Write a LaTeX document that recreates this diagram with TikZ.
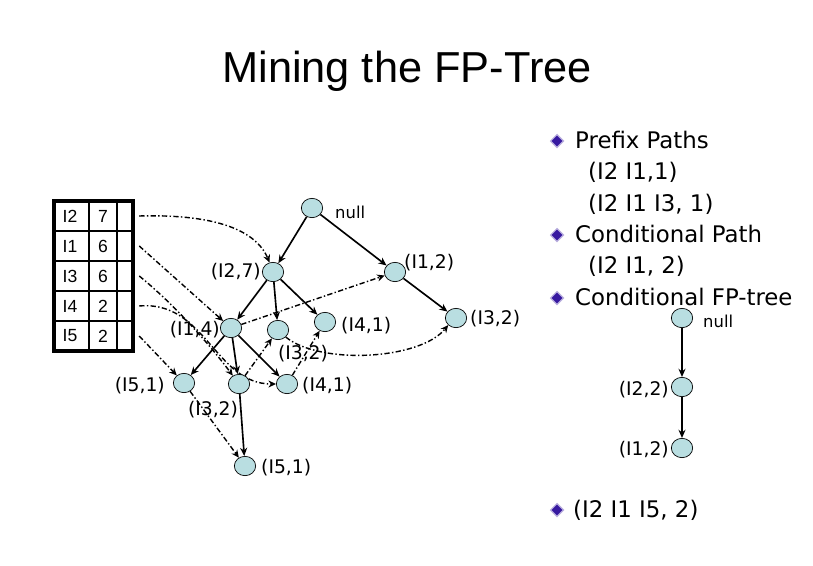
\documentclass[tikz,border=0pt]{standalone}
\usepackage{fontspec}
\setmainfont{DejaVu Sans}
\newfontfamily\arialfont{Liberation Sans}
\usetikzlibrary{arrows.meta,shapes.geometric,backgrounds}

\definecolor{nodecyan}{RGB}{185,222,225}
\definecolor{bulletviolet}{RGB}{55,25,160}

\begin{document}
\begin{tikzpicture}[
    x=0.3mm, y=-0.3mm,
    fpnode/.style={draw, ellipse, fill=nodecyan, minimum width=6.4mm, minimum height=5.8mm, inner sep=0pt, line width=0.6pt},
    lbl/.style={font=\fontsize{16}{19}\selectfont, inner sep=0pt},
    nulllbl/.style={font=\fontsize{14}{16}\selectfont, inner sep=0pt},
    tabtxt/.style={font=\arialfont\fontsize{15}{17}\selectfont, inner sep=0pt},
    cell/.style={minimum width=8.4mm, minimum height=9mm, inner sep=0pt},
    treeedge/.style={-{Stealth[length=7pt,width=6pt]}, line width=1.4pt},
    linkedge/.style={-{Stealth[length=6.5pt,width=6pt]}, line width=1.2pt, dash pattern=on 4.5pt off 2pt on 1.2pt off 2pt},
    bullettxt/.style={font=\fontsize{19.5}{23}\selectfont, anchor=base west, inner sep=0pt},
    bulletmark/.style={diamond, draw=bulletviolet!35!white, fill=bulletviolet, minimum width=4mm, minimum height=4mm, inner sep=0pt, line width=1pt},
  ]
    \useasboundingbox (0,0) rectangle (813,566);

    % Title
    \node[font=\arialfont\fontsize{37}{44}\selectfont] (title) at (407,71) {Mining the FP-Tree};

    % Header table
    \foreach \item/\cnt [count=\r] in {I2/7,I1/6,I3/6,I4/2,I5/2} {
      \node[tabtxt] (n\item) at (70,186+30*\r) {\item};
      \node[tabtxt] (c\item) at (103,186+30*\r) {\cnt};
      \node[cell] (t\item) at (125,186+30*\r) {};
    }
    \draw[line width=2.6pt] (54,201) rectangle (133,351);
    \draw[line width=2.2pt] (89,201) -- (89,351) (117,201) -- (117,351);
    \foreach \y in {231,261,291,321}
      \draw[line width=2.2pt] (54,\y) -- (133,\y);

    % FP-tree
    \node[fpnode] (root) at (312,208) {};
    \node[fpnode] (a27) at (273,272) {};
    \node[fpnode] (a12) at (395,272) {};
    \node[fpnode] (a14) at (231,328) {};
    \node[fpnode] (a32) at (278,330) {};
    \node[fpnode] (a41) at (325,322) {};
    \node[fpnode] (c32) at (456,318) {};
    \node[fpnode] (b51) at (184,383) {};
    \node[fpnode] (b32) at (239,384) {};
    \node[fpnode] (b41) at (287,384) {};
    \node[fpnode] (c51) at (245,466) {};

    \node[nulllbl, anchor=west] (l-root) at (335,212) {null};
    \node[lbl, anchor=east] (l-a27) at (261,272) {(I2,7)};
    \node[lbl, anchor=west] (l-a12) at (404,263) {(I1,2)};
    \node[lbl, anchor=east] (l-a14) at (220,330) {(I1,4)};
    \node[lbl] (l-a32) at (303,354) {(I3,2)};
    \node[lbl, anchor=west] (l-a41) at (341,326) {(I4,1)};
    \node[lbl, anchor=west] (l-c32) at (470,319) {(I3,2)};
    \node[lbl, anchor=east] (l-b51) at (165,386) {(I5,1)};
    \node[lbl] (l-b32) at (213,410) {(I3,2)};
    \node[lbl, anchor=west] (l-b41) at (302,386) {(I4,1)};
    \node[lbl, anchor=west] (l-c51) at (261,468) {(I5,1)};

    \begin{scope}[on background layer]
      % tree edges
      \draw[treeedge] (root) -- (a27);
      \draw[treeedge] (root) -- (a12);
      \draw[treeedge] (a27) -- (a14);
      \draw[treeedge] (a27) -- (a32);
      \draw[treeedge] (a27) -- (a41);
      \draw[treeedge] (a12) -- (c32);
      \draw[treeedge] (a14) -- (b51);
      \draw[treeedge] (a14) -- (b32);
      \draw[treeedge] (a14) -- (b41);
      \draw[treeedge] (b32) -- (c51);
      % node-links
      \draw[linkedge] (tI2.east) .. controls (210,214) and (255,228) .. (a27.110);
      \draw[linkedge] (tI1.east) -- (a14);
      \draw[linkedge] (tI3.east) .. controls (175,305) and (210,345) .. (b32);
      \draw[linkedge] (tI4.east) .. controls (205,300) and (215,384) .. (b41.west);
      \draw[linkedge] (tI5.east) -- (b51);
      \draw[linkedge] (a14) -- (a12);
      \draw[linkedge] (b32) -- (a32);
      \draw[linkedge] (a32.south east) .. controls (320,365) and (420,360) .. (c32.south west);
      \draw[linkedge] (b41) -- (a41);
      \draw[linkedge] (b51) -- (c51);
    \end{scope}

    % Bullet list
    \node[bulletmark] (m1) at (557,141) {};
    \node[bullettxt] (t1) at (575,148) {Prefix Paths};
    \node[bullettxt] (t2) at (588,179.5) {(I2 I1,1)};
    \node[bullettxt] (t3) at (588,211) {(I2 I1 I3, 1)};
    \node[bulletmark] (m2) at (557,235) {};
    \node[bullettxt] (t4) at (575,242) {Conditional Path};
    \node[bullettxt] (t5) at (588,273.5) {(I2 I1, 2)};
    \node[bulletmark] (m3) at (557,298) {};
    \node[bullettxt] (t6) at (575,305) {Conditional FP-tree};
    \node[bulletmark] (m4) at (557,510) {};
    \node[bullettxt] (t7) at (573,517) {(I2 I1 I5, 2)};

    % Conditional FP-tree
    \node[fpnode] (rnull) at (682,318) {};
    \node[fpnode] (r22) at (682,387) {};
    \node[fpnode] (r12) at (682,448) {};
    \node[nulllbl, anchor=west] (l-rnull) at (703,321) {null};
    \node[lbl, anchor=east] (l-r22) at (669,390) {(I2,2)};
    \node[lbl, anchor=east] (l-r12) at (669,450) {(I1,2)};
    \draw[treeedge] (rnull) -- (r22);
    \draw[treeedge] (r22) -- (r12);
  \end{tikzpicture}
\end{document}
